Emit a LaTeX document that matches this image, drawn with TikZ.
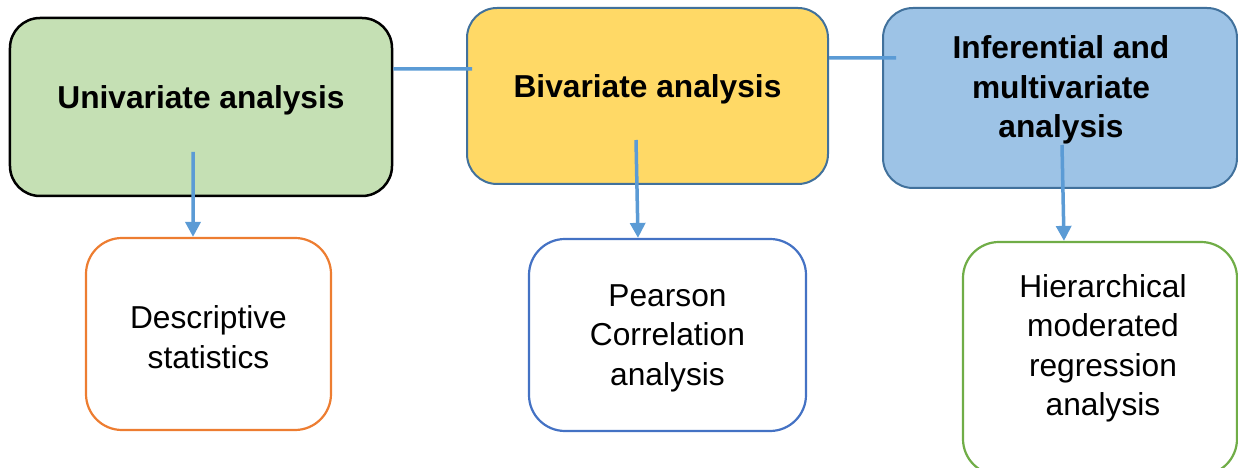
\documentclass[tikz,border=0pt]{standalone}
\usepackage{fontspec}
\setmainfont{Liberation Sans}
\usetikzlibrary{arrows.meta}
\definecolor{gfill}{HTML}{C5E0B4}
\definecolor{yfill}{HTML}{FFD966}
\definecolor{bfill}{HTML}{9DC3E6}
\definecolor{dblue}{HTML}{41719C}
\definecolor{orng}{HTML}{ED7D31}
\definecolor{mblue}{HTML}{4472C4}
\definecolor{grn}{HTML}{70AD47}
\definecolor{conn}{HTML}{5B9BD5}
\tikzset{
  box/.style={draw, rounded corners=30bp, line width=2bp, inner sep=0pt},
  sbox/.style={draw, fill=white, rounded corners=36bp, line width=2.2bp, inner sep=0pt},
  txt/.style={font=\fontsize{31.7bp}{39.5bp}\selectfont, align=center, inner sep=0pt},
  btxt/.style={txt, font=\fontsize{31.7bp}{39.5bp}\selectfont\bfseries},
  link/.style={draw=conn, line width=3.5bp},
  arr/.style={draw=conn, line width=3.5bp, -{Triangle[width=15bp,length=15bp]}}
}
\begin{document}
\begin{tikzpicture}[x=1bp,y=-1bp]
\useasboundingbox (0,0) rectangle (1238,468);
% top boxes
\node[box, draw=black, line width=2.5bp, fill=gfill, minimum width=382bp, minimum height=178bp] (A) at (201,107) {};
\node[box, draw=dblue, fill=yfill, minimum width=361bp, minimum height=176bp] (B) at (647.5,96) {};
\node[box, draw=dblue, fill=bfill, minimum width=354bp, minimum height=180bp] (C) at (1060,98) {};
% bottom boxes
\node[sbox, draw=orng, minimum width=245bp, minimum height=192bp] (D) at (208.5,334) {};
\node[sbox, draw=mblue, minimum width=277bp, minimum height=192bp] (E) at (667.5,335) {};
\node[sbox, draw=grn, minimum width=274bp, minimum height=233bp] (F) at (1100,358.5) {};
% texts
\node[btxt] (At) at ([yshift=7bp]A.center) {Univariate analysis};
\node[btxt] (Bt) at ([yshift=7bp]B.center) {Bivariate analysis};
\node[btxt] (Ct) at ([xshift=1bp,yshift=8bp]C.center) {Inferential and\\multivariate\\analysis};
\node[txt] (Dt) at ([yshift=-3bp]D.center) {Descriptive\\statistics};
\node[txt] (Et) at ([yshift=-3bp]E.center) {Pearson\\Correlation\\analysis};
\node[txt] (Ft) at ([xshift=3bp,yshift=10bp]F.center) {Hierarchical\\moderated\\regression\\analysis};
% connectors
\draw[link] ([yshift=38bp]A.east) -- ([xshift=6bp,yshift=27bp]B.west);
\draw[link] ([yshift=38bp]B.east) -- ([xshift=14bp,yshift=40bp]C.west);
\draw[arr] ([xshift=-8bp,yshift=-45bp]A.center) -- ([xshift=-15.5bp]D.north);
\draw[arr] ([xshift=-11.5bp,yshift=-44bp]B.center) -- ([xshift=-29.5bp]E.north);
\draw[arr] ([xshift=2bp,yshift=-47bp]C.center) -- ([xshift=-36bp]F.north);
\end{tikzpicture}
\end{document}
